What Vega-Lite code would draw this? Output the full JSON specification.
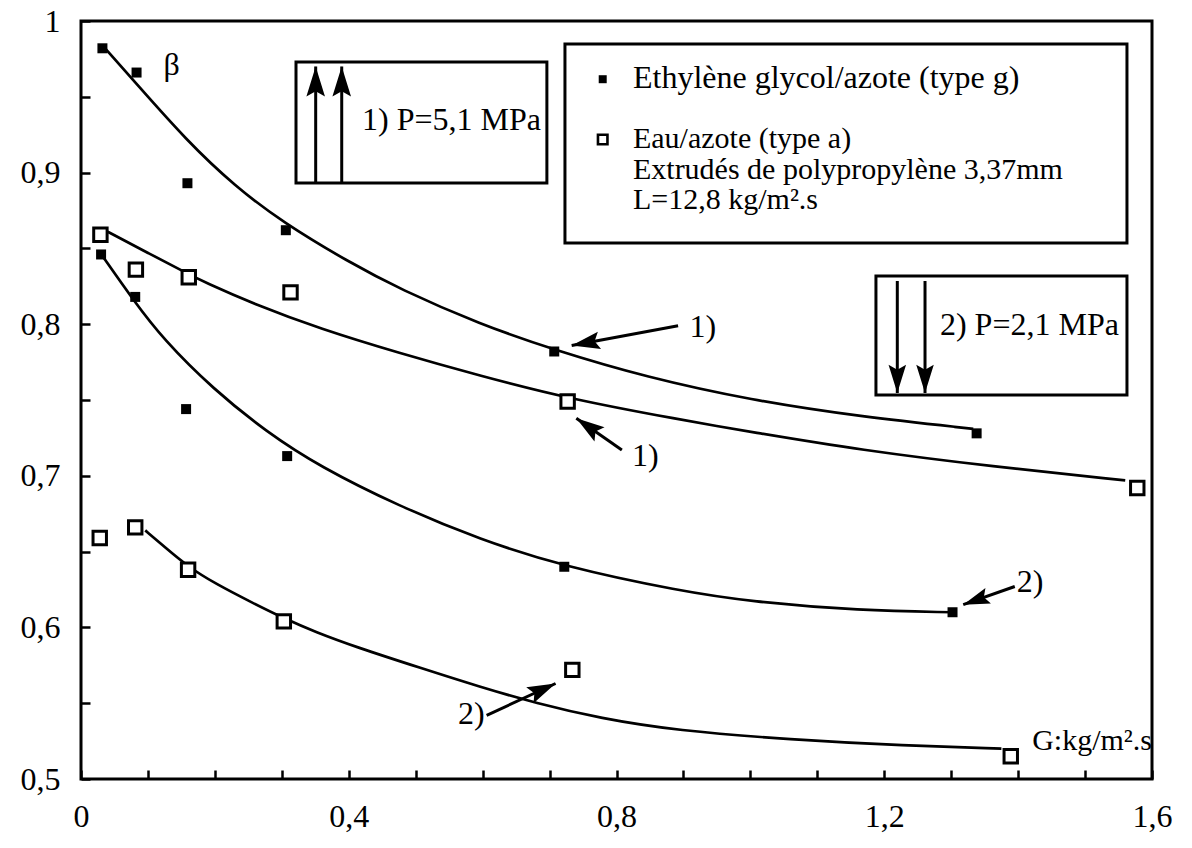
{
  "$schema": "https://vega.github.io/schema/vega-lite/v6.json",
  "width": 1071,
  "height": 758,
  "autosize": {"type": "none"},
  "padding": {"left": 81, "top": 21, "right": 40, "bottom": 69},
  "background": "white",
  "config": {
    "view": {"stroke": "black", "strokeWidth": 3},
    "font": "Liberation Serif",
    "text": {"font": "Liberation Serif", "color": "black"}
  },
  "datasets": {
    "pts": [
      {"G": 0.032, "beta": 0.982, "fluid": "g", "P": 1},
      {"G": 0.083, "beta": 0.966, "fluid": "g", "P": 1},
      {"G": 0.159, "beta": 0.893, "fluid": "g", "P": 1},
      {"G": 0.306, "beta": 0.862, "fluid": "g", "P": 1},
      {"G": 0.707, "beta": 0.782, "fluid": "g", "P": 1},
      {"G": 1.338, "beta": 0.728, "fluid": "g", "P": 1},
      {"G": 0.030, "beta": 0.846, "fluid": "g", "P": 2},
      {"G": 0.081, "beta": 0.818, "fluid": "g", "P": 2},
      {"G": 0.157, "beta": 0.744, "fluid": "g", "P": 2},
      {"G": 0.308, "beta": 0.713, "fluid": "g", "P": 2},
      {"G": 0.722, "beta": 0.640, "fluid": "g", "P": 2},
      {"G": 1.302, "beta": 0.610, "fluid": "g", "P": 2},
      {"G": 0.029, "beta": 0.859, "fluid": "a", "P": 1},
      {"G": 0.082, "beta": 0.836, "fluid": "a", "P": 1},
      {"G": 0.161, "beta": 0.831, "fluid": "a", "P": 1},
      {"G": 0.313, "beta": 0.821, "fluid": "a", "P": 1},
      {"G": 0.727, "beta": 0.749, "fluid": "a", "P": 1},
      {"G": 1.578, "beta": 0.692, "fluid": "a", "P": 1},
      {"G": 0.028, "beta": 0.659, "fluid": "a", "P": 2},
      {"G": 0.081, "beta": 0.666, "fluid": "a", "P": 2},
      {"G": 0.160, "beta": 0.638, "fluid": "a", "P": 2},
      {"G": 0.303, "beta": 0.604, "fluid": "a", "P": 2},
      {"G": 0.734, "beta": 0.572, "fluid": "a", "P": 2},
      {"G": 1.389, "beta": 0.515, "fluid": "a", "P": 2}
    ],
    "curves": [
      {"curve": "g1", "G": 0.036, "beta": 0.982},
      {"curve": "g1", "G": 0.078, "beta": 0.961},
      {"curve": "g1", "G": 0.158, "beta": 0.921},
      {"curve": "g1", "G": 0.230, "beta": 0.891},
      {"curve": "g1", "G": 0.302, "beta": 0.867},
      {"curve": "g1", "G": 0.400, "beta": 0.841},
      {"curve": "g1", "G": 0.477, "beta": 0.823},
      {"curve": "g1", "G": 0.596, "beta": 0.800},
      {"curve": "g1", "G": 0.707, "beta": 0.783},
      {"curve": "g1", "G": 0.845, "beta": 0.765},
      {"curve": "g1", "G": 1.000, "beta": 0.750},
      {"curve": "g1", "G": 1.164, "beta": 0.739},
      {"curve": "g1", "G": 1.333, "beta": 0.731},
      {"curve": "a1", "G": 0.040, "beta": 0.861},
      {"curve": "a1", "G": 0.100, "beta": 0.847},
      {"curve": "a1", "G": 0.161, "beta": 0.833},
      {"curve": "a1", "G": 0.183, "beta": 0.828},
      {"curve": "a1", "G": 0.260, "beta": 0.813},
      {"curve": "a1", "G": 0.357, "beta": 0.797},
      {"curve": "a1", "G": 0.475, "beta": 0.781},
      {"curve": "a1", "G": 0.596, "beta": 0.766},
      {"curve": "a1", "G": 0.727, "beta": 0.751},
      {"curve": "a1", "G": 0.895, "beta": 0.737},
      {"curve": "a1", "G": 1.000, "beta": 0.729},
      {"curve": "a1", "G": 1.164, "beta": 0.717},
      {"curve": "a1", "G": 1.363, "beta": 0.706},
      {"curve": "a1", "G": 1.560, "beta": 0.697},
      {"curve": "g2", "G": 0.032, "beta": 0.845},
      {"curve": "g2", "G": 0.078, "beta": 0.816},
      {"curve": "g2", "G": 0.123, "beta": 0.790},
      {"curve": "g2", "G": 0.198, "beta": 0.757},
      {"curve": "g2", "G": 0.277, "beta": 0.729},
      {"curve": "g2", "G": 0.357, "beta": 0.706},
      {"curve": "g2", "G": 0.475, "beta": 0.680},
      {"curve": "g2", "G": 0.596, "beta": 0.658},
      {"curve": "g2", "G": 0.722, "beta": 0.640},
      {"curve": "g2", "G": 0.895, "beta": 0.624},
      {"curve": "g2", "G": 1.000, "beta": 0.617},
      {"curve": "g2", "G": 1.164, "beta": 0.611},
      {"curve": "g2", "G": 1.302, "beta": 0.610},
      {"curve": "a2", "G": 0.096, "beta": 0.664},
      {"curve": "a2", "G": 0.125, "beta": 0.653},
      {"curve": "a2", "G": 0.160, "beta": 0.640},
      {"curve": "a2", "G": 0.200, "beta": 0.629},
      {"curve": "a2", "G": 0.257, "beta": 0.616},
      {"curve": "a2", "G": 0.303, "beta": 0.606},
      {"curve": "a2", "G": 0.350, "beta": 0.597},
      {"curve": "a2", "G": 0.411, "beta": 0.587},
      {"curve": "a2", "G": 0.509, "beta": 0.573},
      {"curve": "a2", "G": 0.594, "beta": 0.561},
      {"curve": "a2", "G": 0.680, "beta": 0.550},
      {"curve": "a2", "G": 0.776, "beta": 0.540},
      {"curve": "a2", "G": 0.889, "beta": 0.532},
      {"curve": "a2", "G": 1.060, "beta": 0.526},
      {"curve": "a2", "G": 1.231, "beta": 0.522},
      {"curve": "a2", "G": 1.375, "beta": 0.520}
    ],
    "boxes": [
      {"box": "legend", "G": 0.723, "G2": 1.5626, "beta": 0.8536, "beta2": 0.9848},
      {"box": "p1", "G": 0.3212, "G2": 0.696, "beta": 0.8931, "beta2": 0.973},
      {"box": "p2", "G": 1.1876, "G2": 1.5626, "beta": 0.7533, "beta2": 0.8318}
    ],
    "arrows": [
      {"id": "u1", "G": 0.3506, "beta": 0.970, "G2": 0.3506, "beta2": 0.8931},
      {"id": "u2", "G": 0.3895, "beta": 0.970, "G2": 0.3895, "beta2": 0.8931},
      {"id": "d1", "G": 1.2195, "beta": 0.7546, "G2": 1.2195, "beta2": 0.8285},
      {"id": "d2", "G": 1.2609, "beta": 0.7546, "G2": 1.2609, "beta2": 0.8285},
      {"id": "a1", "G": 0.733, "beta": 0.786, "G2": 0.892, "beta2": 0.799},
      {"id": "a2", "G": 0.740, "beta": 0.738, "G2": 0.808, "beta2": 0.717},
      {"id": "a3", "G": 1.318, "beta": 0.615, "G2": 1.395, "beta2": 0.627},
      {"id": "a4", "G": 0.709, "beta": 0.563, "G2": 0.606, "beta2": 0.542}
    ],
    "legendpts": [
      {"G": 0.7794, "beta": 0.9616, "fluid": "g"},
      {"G": 0.7794, "beta": 0.9218, "fluid": "a"}
    ],
    "legendhead": [
      {"G": 0.8246, "beta": 0.9558, "text": "Ethylène glycol/azote (type g)"}
    ],
    "legendtext": [
      {"G": 0.8246, "beta": 0.9159, "text": "Eau/azote (type a)"},
      {"G": 0.8246, "beta": 0.8958, "text": "Extrudés de polypropylène 3,37mm"},
      {"G": 0.8246, "beta": 0.8757, "text": "L=12,8 kg/m².s"}
    ],
    "boxtext": [
      {"G": 0.4198, "beta": 0.928, "text": "1) P=5,1 MPa"},
      {"G": 1.2832, "beta": 0.7929, "text": "2) P=2,1 MPa"}
    ],
    "notes": [
      {"G": 0.929, "beta": 0.798, "text": "1)"},
      {"G": 0.843, "beta": 0.713, "text": "1)"},
      {"G": 1.418, "beta": 0.630, "text": "2)"},
      {"G": 0.583, "beta": 0.543, "text": "2)"},
      {"G": 0.1355, "beta": 0.971, "text": "β"}
    ],
    "unit": [
      {"G": 1.6, "beta": 0.525, "text": "G:kg/m².s"}
    ]
  },
  "encoding": {
    "x": {
      "field": "G",
      "type": "quantitative",
      "scale": {"domain": [0, 1.6], "nice": false, "zero": false},
      "axis": {
        "title": null,
        "grid": false,
        "domain": false,
        "values": [0, 0.1, 0.2, 0.3, 0.4, 0.5, 0.6, 0.7, 0.8, 0.9, 1, 1.1, 1.2, 1.3, 1.4, 1.5, 1.6],
        "labelExpr": "round(datum.value*10)%4==0 ? replace(format(datum.value,'.1~f'),'.',',') : ''",
        "tickSize": -9,
        "tickWidth": 2.5,
        "tickColor": "black",
        "labelFont": "Liberation Serif",
        "labelFontSize": 32,
        "labelColor": "black",
        "labelPadding": 31,
        "labelFlush": false,
        "labelOverlap": false
      }
    },
    "y": {
      "field": "beta",
      "type": "quantitative",
      "scale": {"domain": [0.5, 1], "nice": false, "zero": false},
      "axis": {
        "title": null,
        "grid": false,
        "domain": false,
        "values": [0.5, 0.55, 0.6, 0.65, 0.7, 0.75, 0.8, 0.85, 0.9, 0.95, 1],
        "labelExpr": "round(datum.value*100)%10==0 ? replace(format(datum.value,'.1~f'),'.',',') : ''",
        "tickSize": -9,
        "tickWidth": 2.5,
        "tickColor": "black",
        "labelFont": "Liberation Serif",
        "labelFontSize": 32,
        "labelColor": "black",
        "labelPadding": 30,
        "labelFlush": false,
        "labelOverlap": false
      }
    }
  },
  "layer": [
    {
      "data": {"name": "curves"},
      "mark": {"type": "line", "interpolate": "basis", "color": "black", "strokeWidth": 2.7},
      "encoding": {"detail": {"field": "curve", "type": "nominal"}}
    },
    {
      "data": {"name": "pts"},
      "transform": [{"filter": "datum.fluid == 'g'"}],
      "mark": {"type": "square", "filled": true, "color": "black", "size": 100, "opacity": 1}
    },
    {
      "data": {"name": "pts"},
      "transform": [{"filter": "datum.fluid == 'a'"}],
      "mark": {"type": "square", "filled": true, "fill": "white", "stroke": "black", "strokeWidth": 3, "size": 180, "opacity": 1}
    },
    {
      "data": {"name": "boxes"},
      "mark": {"type": "rect", "fill": "white", "stroke": "black", "strokeWidth": 3},
      "encoding": {"x2": {"field": "G2"}, "y2": {"field": "beta2"}}
    },
    {
      "data": {"name": "legendpts"},
      "transform": [{"filter": "datum.fluid == 'g'"}],
      "mark": {"type": "square", "filled": true, "color": "black", "size": 64, "opacity": 1}
    },
    {
      "data": {"name": "legendpts"},
      "transform": [{"filter": "datum.fluid == 'a'"}],
      "mark": {"type": "square", "filled": true, "fill": "white", "stroke": "black", "strokeWidth": 2.6, "size": 90, "opacity": 1}
    },
    {
      "data": {"name": "arrows"},
      "mark": {"type": "rule", "color": "black", "strokeWidth": 3},
      "encoding": {"x": {"field": "G2", "type": "quantitative"}, "y": {"field": "beta2", "type": "quantitative"}, "x2": {"field": "G"}, "y2": {"field": "beta"}}
    },
    {
      "data": {"name": "arrows"},
      "transform": [{"filter": "datum.id == 'u1' || datum.id == 'u2'"}],
      "mark": {"type": "point", "shape": "M0,0L0.62,2L0,1.65L-0.62,2Z", "filled": true, "color": "black", "size": 900, "opacity": 1, "angle": 0}
    },
    {
      "data": {"name": "arrows"},
      "transform": [{"filter": "datum.id == 'd1' || datum.id == 'd2'"}],
      "mark": {"type": "point", "shape": "M0,0L0.62,2L0,1.65L-0.62,2Z", "filled": true, "color": "black", "size": 800, "opacity": 1, "angle": 180}
    },
    {
      "data": {"name": "arrows"},
      "transform": [{"filter": "datum.id == 'a1'"}],
      "mark": {"type": "point", "shape": "M0,0L0.62,2L0,1.65L-0.62,2Z", "filled": true, "color": "black", "size": 800, "opacity": 1, "angle": 259.5}
    },
    {
      "data": {"name": "arrows"},
      "transform": [{"filter": "datum.id == 'a2'"}],
      "mark": {"type": "point", "shape": "M0,0L0.62,2L0,1.65L-0.62,2Z", "filled": true, "color": "black", "size": 800, "opacity": 1, "angle": 305}
    },
    {
      "data": {"name": "arrows"},
      "transform": [{"filter": "datum.id == 'a3'"}],
      "mark": {"type": "point", "shape": "M0,0L0.62,2L0,1.65L-0.62,2Z", "filled": true, "color": "black", "size": 700, "opacity": 1, "angle": 250.5}
    },
    {
      "data": {"name": "arrows"},
      "transform": [{"filter": "datum.id == 'a4'"}],
      "mark": {"type": "point", "shape": "M0,0L0.62,2L0,1.65L-0.62,2Z", "filled": true, "color": "black", "size": 800, "opacity": 1, "angle": 65.3}
    },
    {
      "data": {"name": "legendhead"},
      "mark": {"type": "text", "align": "left", "baseline": "alphabetic", "fontSize": 32, "font": "Liberation Serif", "color": "black"},
      "encoding": {"text": {"field": "text"}}
    },
    {
      "data": {"name": "legendtext"},
      "mark": {"type": "text", "align": "left", "baseline": "alphabetic", "fontSize": 30, "font": "Liberation Serif", "color": "black"},
      "encoding": {"text": {"field": "text"}}
    },
    {
      "data": {"name": "boxtext"},
      "mark": {"type": "text", "align": "left", "baseline": "alphabetic", "fontSize": 32, "font": "Liberation Serif", "color": "black"},
      "encoding": {"text": {"field": "text"}}
    },
    {
      "data": {"name": "notes"},
      "mark": {"type": "text", "align": "center", "baseline": "middle", "fontSize": 32, "font": "Liberation Serif", "color": "black"},
      "encoding": {"text": {"field": "text"}}
    },
    {
      "data": {"name": "unit"},
      "mark": {"type": "text", "align": "right", "baseline": "middle", "fontSize": 30, "font": "Liberation Serif", "color": "black"},
      "encoding": {"text": {"field": "text"}}
    }
  ]
}
